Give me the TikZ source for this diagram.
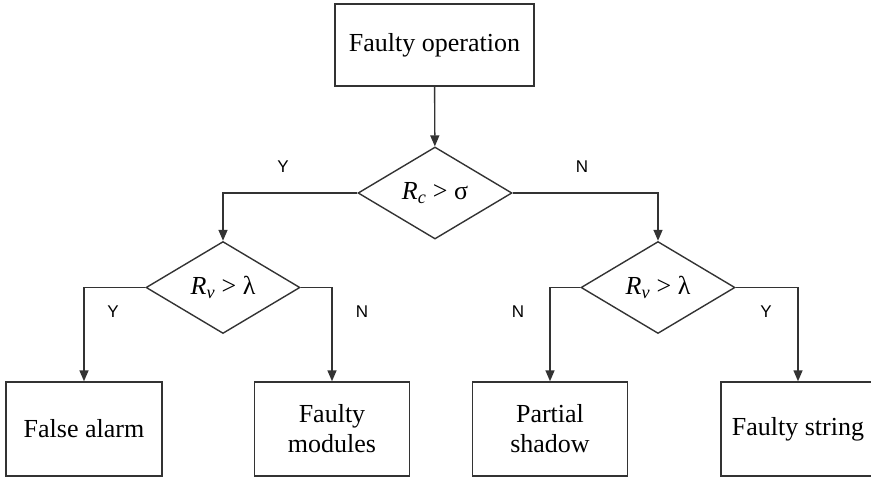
\documentclass[tikz,border=0pt]{standalone}
\usepackage{fontspec}
\setmainfont{Liberation Serif}
\newfontfamily\ynfont{Liberation Sans}
\usetikzlibrary{arrows.meta,shapes.geometric}

\begin{document}
\begin{tikzpicture}[x=1pt,y=-1pt,
	line width=1.4pt, draw=black!80,
	box/.style={draw, rectangle, inner sep=0pt, align=center,
		font=\fontsize{26}{30}\selectfont},
	test/.style={draw, diamond, aspect=1.7, inner sep=0pt,
		minimum width=154pt, minimum height=92pt,
		font=\fontsize{26}{30}\selectfont},
	yn/.style={font=\ynfont\fontsize{17}{20}\selectfont},
	arr/.style={-{Triangle[length=11pt,width=9pt]}}]

	% ---- frame

	\useasboundingbox (0,0) rectangle (871,477);

	% ---- boxes

	\node[box, minimum width=199pt, minimum height=82pt] (start) at (434.5,45) {Faulty operation};

	\node[box, minimum width=156pt, minimum height=94pt] (alarm) at (84,429) {False alarm};
	\node[box, minimum width=155pt, minimum height=94pt] (modules) at (332,429) {Faulty\\modules};
	\node[box, minimum width=155pt, minimum height=94pt] (shadow) at (550,429) {Partial\\shadow};
	\node[box, minimum width=154pt, minimum height=94pt] (string) at (798,429) {Faulty string};

	% ---- tests

	\node[test] (rc) at (435,193) {\textit{R}\textsubscript{\textit{c}} > σ};
	\node[test] (rvl) at (223,287.5) {\textit{R}\textsubscript{\textit{v}} > λ};
	\node[test] (rvr) at (658,287.5) {\textit{R}\textsubscript{\textit{v}} > λ};

	% ---- connectors

	\draw[arr] (start) -- (rc);
	\draw[arr] (rc.west) -| (rvl.north);
	\draw[arr] (rc.east) -| (rvr.north);
	\draw[arr] (rvl.west) -| (alarm.north);
	\draw[arr] (rvl.east) -| (modules.north);
	\draw[arr] (rvr.west) -| (shadow.north);
	\draw[arr] (rvr.east) -| (string.north);

	% ---- branch labels

	\node[yn] (y1) at (283,167) {Y};
	\node[yn] (n1) at (582,167) {N};
	\node[yn] (y2) at (113,312) {Y};
	\node[yn] (n2) at (362,312) {N};
	\node[yn] (n3) at (518,312) {N};
	\node[yn] (y3) at (766,312) {Y};

\end{tikzpicture}
\end{document}
